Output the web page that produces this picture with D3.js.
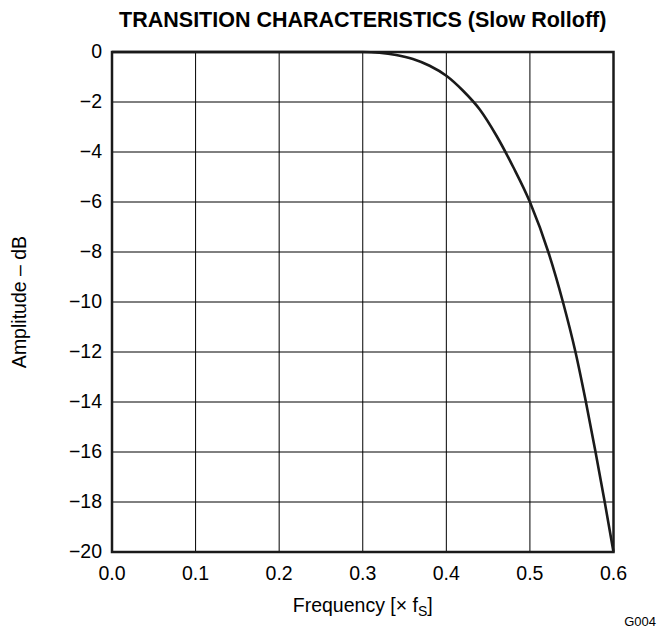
<!DOCTYPE html>
<html>
<head>
<meta charset="utf-8">
<script src="https://cdn.jsdelivr.net/npm/d3@7"></script>
<style>
body { margin: 0; background: #fff; }
text { font-family: "Liberation Sans", Arial, sans-serif; fill: #000; }
</style>
</head>
<body>
<div></div>
<script>
var width = 670;
var height = 632;
var margin = { top: 52, right: 56, bottom: 80, left: 112 };

// amplitude response
var freq = [0, 0.1, 0.2, 0.3, 0.32, 0.34, 0.36, 0.38, 0.40, 0.42, 0.44, 0.46, 0.48, 0.50, 0.5225, 0.5395, 0.5545, 0.567, 0.5785, 0.5895, 0.6];
var amp = [0, 0, 0, 0, -0.03, -0.12, -0.28, -0.55, -0.95, -1.55, -2.3, -3.35, -4.6, -6, -8.05, -10, -12, -14, -16, -18, -20];

var xTicks = [0, 0.1, 0.2, 0.3, 0.4, 0.5, 0.6];
var yTicks = [0, -2, -4, -6, -8, -10, -12, -14, -16, -18, -20];

var svg = d3.select("div")
	.append("svg")
	.attr("width", width)
	.attr("height", height);

var x = d3.scaleLinear().domain([0, 0.6]).range([margin.left, width - margin.right - 0.5]);
var y = d3.scaleLinear().domain([-20, 0]).range([height - margin.bottom, margin.top]);

// grid
svg.append("g")
	.selectAll("line")
	.data(xTicks)
	.enter()
	.append("line")
	.attr("x1", d => x(d))
	.attr("x2", d => x(d))
	.attr("y1", y(0))
	.attr("y2", y(-20))
	.attr("stroke", "#000")
	.attr("stroke-width", 1);

svg.append("g")
	.selectAll("line")
	.data(yTicks)
	.enter()
	.append("line")
	.attr("x1", x(0))
	.attr("x2", x(0.6))
	.attr("y1", d => y(d))
	.attr("y2", d => y(d))
	.attr("stroke", "#000")
	.attr("stroke-width", 1);

// tick labels
svg.append("g")
	.selectAll("text")
	.data(xTicks)
	.enter()
	.append("text")
	.attr("x", d => x(d))
	.attr("y", y(-20) + 28)
	.attr("text-anchor", "middle")
	.attr("font-size", 19.5)
	.text(d => d3.format(".1f")(d));

svg.append("g")
	.selectAll("text")
	.data(yTicks)
	.enter()
	.append("text")
	.attr("x", x(0) - 10)
	.attr("y", d => y(d) + 6)
	.attr("text-anchor", "end")
	.attr("font-size", 19.5)
	.text(d => d < 0 ? "\u2212" + Math.abs(d) : d);

// curve
var pts = freq.map((f, i) => [f, amp[i]]);
svg.append("path")
	.datum(pts)
	.attr("fill", "none")
	.attr("stroke", "#1a1a1a")
	.attr("stroke-width", 2.6)
	.attr("d", d3.line().x(d => x(d[0])).y(d => y(d[1])).curve(d3.curveMonotoneX));

// frame
svg.append("rect")
	.attr("x", x(0))
	.attr("y", y(0))
	.attr("width", x(0.6) - x(0))
	.attr("height", y(-20) - y(0))
	.attr("fill", "none")
	.attr("stroke", "#1a1a1a")
	.attr("stroke-width", 2.5);

// titles
svg.append("text")
	.attr("x", (x(0) + x(0.6)) / 2)
	.attr("y", 27)
	.attr("text-anchor", "middle")
	.attr("font-size", 21.5)
	.attr("font-weight", "bold")
	.text("TRANSITION CHARACTERISTICS (Slow Rolloff)");

var xt = svg.append("text")
	.attr("x", (x(0) + x(0.6)) / 2)
	.attr("y", 612)
	.attr("text-anchor", "middle")
	.attr("font-size", 19.5);
xt.append("tspan").text("Frequency [\u00d7 f");
xt.append("tspan").attr("font-size", 14).attr("dy", 4).text("S");
xt.append("tspan").attr("dy", -4).text("]");

svg.append("text")
	.attr("transform", "translate(26," + ((y(0) + y(-20)) / 2) + ") rotate(-90)")
	.attr("text-anchor", "middle")
	.attr("font-size", 19.5)
	.text("Amplitude \u2013 dB");

svg.append("text")
	.attr("x", 656)
	.attr("y", 626)
	.attr("text-anchor", "end")
	.attr("font-size", 13)
	.text("G004");
</script>
</body>
</html>
